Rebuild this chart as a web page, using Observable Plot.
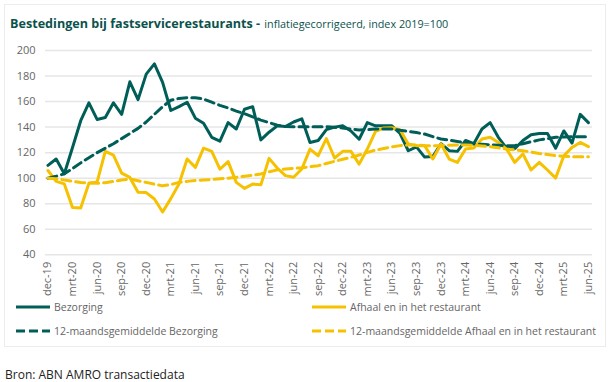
<!DOCTYPE html>
<html><head><meta charset="utf-8">
<script src="https://cdn.jsdelivr.net/npm/d3@7"></script>
<script src="https://cdn.jsdelivr.net/npm/@observablehq/plot@0.6"></script>
<style>
body{margin:0;background:#fff;font-family:"Open Sans",sans-serif;}
#wrap{position:relative;width:609px;height:382px;overflow:hidden;background:#fff;}
#card{position:absolute;left:4px;top:4px;width:602px;height:343px;border:1.5px solid #ececec;box-sizing:border-box;}
#title{position:absolute;left:10px;top:11px;white-space:nowrap;color:#0b524c;}
#title b{font-size:12.6px;font-weight:700;}
#title span{font-size:10.8px;}
#chart{position:absolute;left:0;top:38px;}
.leg{position:absolute;font-size:10.5px;color:#666;white-space:nowrap;display:flex;align-items:center;}
.leg svg{margin-right:3px;}
#cap{position:absolute;left:5px;top:366px;font-size:12px;color:#222;}
</style></head>
<body><div id="wrap">
<div id="card"></div>
<div id="title"><b>Bestedingen bij fastservicerestaurants -</b> <span>inflatiegecorrigeerd, index 2019=100</span></div>
<div id="chart"></div>
<div id="legend"></div>
<div id="cap">Bron: ABN AMRO transactiedata</div>
</div>
<script>
const tickLabels = ["dec-19","mrt-20","jun-20","sep-20","dec-20","mrt-21","jun-21","sep-21","dec-21","mrt-22","jun-22","sep-22","dec-22","mrt-23","jun-23","sep-23","dec-23","mrt-24","jun-24","sep-24","dec-24","mrt-25","jun-25"];
const yTicks = [40,60,80,100,120,140,160,180,200];
const seriesNames = ["Bezorging","Afhaal en in het restaurant","12-maandsgemiddelde Bezorging","12-maandsgemiddelde Afhaal en in het restaurant"];
const bezorging = [110,115,103.5,124,145,159,146,147.5,159,150,
175.5,161.5,181.5,189.5,175,153,156,159.5,147,143,
132,129,143.5,138.5,154,156,130,136,141,140.5,
144,146.5,128,129.5,138,140,141,137,130.5,143.5,
141,141,141,135,121.5,124.5,116.5,117,127,121.5,
121,129.5,127,138.5,143.5,132,123.5,123,129.5,134,
135,135,123.5,137,127.5,150,143.5];
const afhaal = [106,97.5,95.5,77,76.7,96,97,121,118,104,
100.6,89,88.7,83.7,73.5,84,95.5,115,108.5,123.5,
121,107,113,96.7,92,95.4,94.8,115.5,108,102,
100.7,107.2,122.8,117.6,131,115.8,121,121,111,122.8,
136.7,139.3,139.5,138,126.8,125.5,125.5,115,126.8,115,
112.4,122.8,123.6,130.7,132,128,122.8,112.4,119,106.4,
112.4,106.4,100.1,117.6,124.1,128,124.7];
const bezorgingGem = [100,101.5,103.5,107.5,112,116,120,123.5,127,131,
135,139,144,150,156,161,162.5,163,163,162,
159.5,157,155,152.5,150.5,148,145.5,143.5,141.5,140.5,
140.3,140.3,140.3,140.3,140.3,139.8,139.3,138.5,137.8,138,
138.5,138.5,138.5,137.5,136.7,135.7,134.6,132.5,130.7,129.8,
128.8,127.8,126.8,126.5,126.2,125.8,125.5,125.5,127,128.5,
130,131,132,132.3,132.5,132.5,132.5];
const afhaalGem = [100,99.5,98.6,97.5,96.7,96.3,96,96.5,97.5,98.5,
99.4,98,96.7,95.3,94,95,96.7,97.5,98.3,98.6,
99,99.5,100,100.7,101.5,102.3,103.3,105,106.5,107.2,
107.7,108.2,109,109.8,111.5,113.2,114.8,116.3,118.2,120.2,
122,123.3,124.5,125.5,126,126,125.5,125.5,125.5,125.8,
126,126,125.8,125.2,124.7,123.8,122.8,122.2,121.5,120.5,
119.4,118.5,117.6,117.2,116.8,116.8,116.8];

const teal = "#005e58", yellow = "#f5c100";
const tickIdx = tickLabels.map((_, k) => k * 3);

const plot = Plot.plot({
  width: 609, height: 266,
  marginLeft: 45, marginRight: 17, marginTop: 12, marginBottom: 49.7,
  style: {fontFamily: "Open Sans, sans-serif", fontSize: "11px", color: "#666", background: "transparent"},
  x: {domain: [-0.3, 66.5]},
  y: {domain: [40, 200]},
  marks: [
    Plot.ruleY(yTicks, {stroke: "#e6e6e6", strokeWidth: 1.5}),
    Plot.axisY({ticks: yTicks, tickSize: 0, tickPadding: 10, label: null, fill: "#666"}),
    Plot.axisX({ticks: tickIdx, tickFormat: i => tickLabels[Math.round(i / 3)], tickRotate: -90, tickSize: 0, tickPadding: 7, label: null, fill: "#666"}),
    Plot.lineY(bezorging, {stroke: teal, strokeWidth: 3}),
    Plot.lineY(afhaal, {stroke: yellow, strokeWidth: 3}),
    Plot.lineY(bezorgingGem, {stroke: teal, strokeWidth: 3, strokeDasharray: "9,5"}),
    Plot.lineY(afhaalGem, {stroke: yellow, strokeWidth: 3, strokeDasharray: "9,5"})
  ]
});
document.getElementById("chart").appendChild(plot);

const legItems = [
  {name: seriesNames[0], color: teal, dash: null, left: 15, top: 300},
  {name: seriesNames[1], color: yellow, dash: null, left: 311, top: 300},
  {name: seriesNames[2], color: teal, dash: "9,4", left: 15, top: 324},
  {name: seriesNames[3], color: yellow, dash: "9,4", left: 311, top: 324}
];
const legend = document.getElementById("legend");
legItems.forEach(it => {
  const d = document.createElement("div");
  d.className = "leg";
  d.style.left = it.left + "px";
  d.style.top = it.top + "px";
  d.innerHTML = `<svg width="36" height="14"><line x1="1" y1="7" x2="35" y2="7" stroke="${it.color}" stroke-width="3" ${it.dash ? `stroke-dasharray="${it.dash}"` : ""}/></svg><span>${it.name}</span>`;
  legend.appendChild(d);
});
</script>
</body></html>
